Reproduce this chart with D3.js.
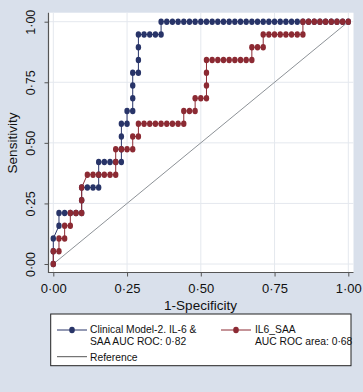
<!DOCTYPE html>
<html>
<head>
<meta charset="utf-8">
<script src="https://cdn.jsdelivr.net/npm/d3@7/dist/d3.min.js"></script>
<style>
  html, body { margin: 0; padding: 0; background: #d9e0eb; }
  svg { display: block; }
  text { font-family: "Liberation Sans", Arial, Helvetica, sans-serif; fill: #111; }
</style>
</head>
<body>
<svg id="chart" width="363" height="392"></svg>
<script>
// ---- Data ----
const negativesTotal = 52;   // number of steps along 1-Specificity
const positivesTotal = 19;   // number of steps along Sensitivity

// Clinical Model-2. IL-6 & SAA (counts of false / true positives at each cut-point)
const clinicalFP = [0,0,0,1,1,2,3,4,5,5,5,6,7,8,8,8,9,10,11,12,12,12,12,13,13,14,14,14,14,15,15,15,15,16,17,18,19,19,
  20,21,22,23,24,25,26,27,28,29,30,31,32,33,34,35,36,37,38,39,40,41,42,43,44,45,46,47,48,49,50,51,52];
const clinicalTP = [0,1,2,3,4,4,4,4,4,5,6,6,6,6,7,8,8,8,8,8,9,10,11,11,12,12,13,14,15,15,16,17,18,18,18,18,18,19,
  19,19,19,19,19,19,19,19,19,19,19,19,19,19,19,19,19,19,19,19,19,19,19,19,19,19,19,19,19,19,19,19,19];

// IL6_SAA
const il6FP = [0,0,1,1,2,2,3,3,4,5,5,5,6,7,8,9,10,11,11,11,12,13,14,14,15,15,16,17,18,19,20,21,22,23,23,24,25,25,26,27,27,27,27,
  28,29,30,31,32,33,34,35,35,36,37,37,38,39,40,41,42,43,44,44,45,46,47,48,49,50,51,52];
const il6TP = [0,1,1,2,2,3,3,4,4,4,5,6,7,7,7,7,7,7,8,9,9,9,9,10,10,11,11,11,11,11,11,11,11,11,12,12,12,13,13,13,14,15,16,
  16,16,16,16,16,16,16,16,17,17,17,18,18,18,18,18,18,18,18,19,19,19,19,19,19,19,19,19];

const axisTicks = [0, 0.25, 0.5, 0.75, 1];
const seriesNames = [["Clinical Model-2. IL-6 &", "SAA AUC ROC: 0·82"], ["IL6_SAA", "AUC ROC area: 0·68"], ["Reference"]];
const seriesColors = ["#283468", "#8c2a33", "#8d9297"];

// ---- Drawing ----
const svg = d3.select("#chart");
const x = d3.scaleLinear().domain([0, 1]).range([53.3, 348.3]);
const y = d3.scaleLinear().domain([0, 1]).range([264, 21.7]);
const fmt = d => d3.format(".2f")(d).replace(".", "·");

// plot region
const pr = { l: 48.5, t: 12.7, r: 353.5, b: 272.5 };
svg.append("rect").attr("x", pr.l).attr("y", pr.t).attr("width", pr.r - pr.l).attr("height", pr.b - pr.t).attr("fill", "#ffffff");

// gridlines
svg.append("g").selectAll("line").data(axisTicks).join("line")
  .attr("x1", pr.l).attr("x2", pr.r).attr("y1", d => y(d)).attr("y2", d => y(d))
  .attr("stroke", "#e4e8ee").attr("stroke-width", 1);
svg.append("g").selectAll("line").data(axisTicks).join("line")
  .attr("y1", pr.t).attr("y2", pr.b).attr("x1", d => x(d)).attr("x2", d => x(d))
  .attr("stroke", "#e4e8ee").attr("stroke-width", 1);

// axes
const yAxis = d3.axisLeft(y).tickValues(axisTicks).tickSize(4).tickFormat(fmt);
const gy = svg.append("g").attr("transform", `translate(${pr.l},0)`).call(yAxis);
gy.select(".domain").remove();
gy.selectAll(".tick line").attr("stroke", "#555");
gy.selectAll(".tick text").attr("font-size", 12.5)
  .attr("x", 0).attr("dy", 0).attr("text-anchor", "middle")
  .attr("transform", `translate(${35 - pr.l},0) rotate(-90)`);

const xAxis = d3.axisBottom(x).tickValues(axisTicks).tickSize(4).tickFormat(fmt);
const gx = svg.append("g").attr("transform", `translate(0,${pr.b})`).call(xAxis);
gx.select(".domain").remove();
gx.selectAll(".tick line").attr("stroke", "#555");
gx.selectAll(".tick text").attr("font-size", 13).attr("y", 20.5).attr("dy", 0);

svg.append("line").attr("x1", pr.l).attr("x2", pr.l).attr("y1", pr.t).attr("y2", pr.b + 0.5).attr("stroke", "#555").attr("stroke-width", 1.2);
svg.append("line").attr("x1", pr.l).attr("x2", pr.r).attr("y1", pr.b).attr("y2", pr.b).attr("stroke", "#555").attr("stroke-width", 1.2);

// axis titles
svg.append("text").attr("x", 200.5).attr("y", 309.5).attr("text-anchor", "middle").attr("font-size", 13.5).text("1-Specificity");
svg.append("text").attr("transform", "translate(17,143) rotate(-90)").attr("text-anchor", "middle").attr("font-size", 13.5).text("Sensitivity");

// reference line
svg.append("line").attr("x1", x(0)).attr("y1", y(0)).attr("x2", x(1)).attr("y2", y(1))
  .attr("stroke", seriesColors[2]).attr("stroke-width", 1);

function drawSeries(fp, tp, color) {
  const pts = fp.map((f, i) => [f / negativesTotal, tp[i] / positivesTotal]);
  const g = svg.append("g");
  g.append("path").datum(pts)
    .attr("d", d3.line().x(d => x(d[0])).y(d => y(d[1])))
    .attr("fill", "none").attr("stroke", color).attr("stroke-width", 1);
  g.selectAll("ellipse").data(pts).join("ellipse")
    .attr("cx", d => x(d[0])).attr("cy", d => y(d[1]))
    .attr("rx", 2.7).attr("ry", 3.3).attr("fill", color);
}
drawSeries(clinicalFP, clinicalTP, seriesColors[0]);
drawSeries(il6FP, il6TP, seriesColors[1]);

// legend
const lg = svg.append("g");
lg.append("rect").attr("x", 50.7).attr("y", 314).attr("width", 300.3).attr("height", 51.7)
  .attr("fill", "#fff").attr("stroke", "#222").attr("stroke-width", 1);
const legendItems = [
  { lx1: 57, lx2: 87, ly: 330, tx: 90, lines: seriesNames[0], color: seriesColors[0], marker: true, ty: [333, 344.5] },
  { lx1: 221, lx2: 251, ly: 330, tx: 255, lines: seriesNames[1], color: seriesColors[1], marker: true, ty: [333, 344.5] },
  { lx1: 57, lx2: 87, ly: 356.7, tx: 90, lines: seriesNames[2], color: "#555", marker: false, ty: [360.5] }
];
legendItems.forEach(it => {
  lg.append("line").attr("x1", it.lx1).attr("x2", it.lx2).attr("y1", it.ly).attr("y2", it.ly)
    .attr("stroke", it.color).attr("stroke-width", 1);
  if (it.marker) {
    lg.append("ellipse").attr("cx", (it.lx1 + it.lx2) / 2).attr("cy", it.ly).attr("rx", 2.8).attr("ry", 3.3).attr("fill", it.color);
  }
  it.lines.forEach((t, i) => {
    lg.append("text").attr("x", it.tx).attr("y", it.ty[i]).attr("font-size", 10.3).text(t);
  });
});
</script>
</body>
</html>
